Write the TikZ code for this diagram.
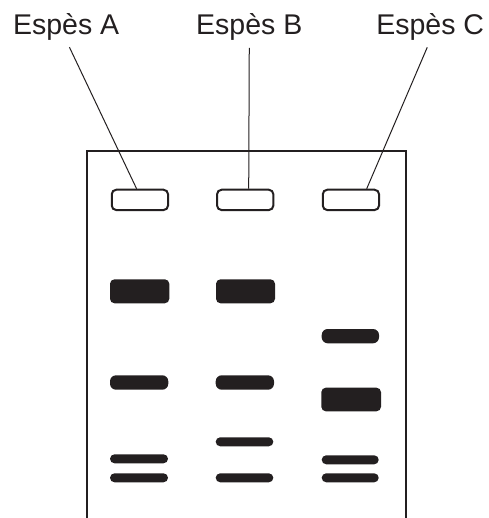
\documentclass[tikz,border=0pt]{standalone}
\usepackage{fontspec}
\setmainfont{Liberation Sans}
\definecolor{gelink}{RGB}{35,31,32}
\tikzset{ % common looks of the gel
	species/.style={anchor=base, inner sep=0pt, font=\fontsize{28.5pt}{30pt}\selectfont, text=gelink},
	gelwall/.style={draw=gelink, line width=2pt},
	well/.style={draw=gelink, line width=2pt, rounded corners=4.5pt, minimum width=56.3pt, minimum height=20.3pt, inner sep=0pt},
	leader/.style={draw=gelink, line width=1pt, shorten <=7.5pt},
	band/.style={fill=gelink, rounded corners=4.5pt}
}

\begin{document}
\begin{tikzpicture}[x=1pt,y=-1pt]
			\useasboundingbox (0,0) rectangle (488,518);
			% Gel outline, open at the bottom
			\draw [gelwall] (87,519) -- (87,151) -- (406,151) -- (406,519);
			% Labels
			\node [species] (labelA) at (66.2,34.3) {Espès A};
			\node [species] (labelB) at (249.3,34.3) {Espès B};
			\node [species] (labelC) at (430.2,34.3) {Espès C};
			% Wells
			\node [well] (wellA) at (139.9,199.9) {};
			\node [well] (wellB) at (245.2,199.9) {};
			\node [well] (wellC) at (350.9,199.9) {};
			% Leader lines
			\draw [leader] (labelA.south) -- ([xshift=-3.3pt]wellA.north);
			\draw [leader] (labelB.south) -- ([xshift=3.5pt]wellB.north);
			\draw [leader] (labelC.south) -- ([xshift=15.8pt]wellC.north);
			% Bands, lane A
			\fill [band] (110,279.3) rectangle (169.3,303.3);
			\fill [band, rounded corners=6pt] (110,375.3) rectangle (168.3,389.7);
			\fill [band] (110,454.3) rectangle (168,463.3);
			\fill [band] (110,473.3) rectangle (168,482.3);
			% Bands, lane B
			\fill [band] (216,279.3) rectangle (275,303.3);
			\fill [band, rounded corners=6pt] (215.7,375.3) rectangle (274,389.7);
			\fill [band] (215.7,437.3) rectangle (273.3,446.3);
			\fill [band] (215.7,473.3) rectangle (273.3,482.3);
			% Bands, lane C
			\fill [band, rounded corners=6pt] (321.7,329) rectangle (379,343.3);
			\fill [band] (321.3,387.7) rectangle (381,411.3);
			\fill [band] (321.7,455.3) rectangle (378.7,464.3);
			\fill [band] (321.7,473.3) rectangle (378.7,482.3);
		\end{tikzpicture}
\end{document}
